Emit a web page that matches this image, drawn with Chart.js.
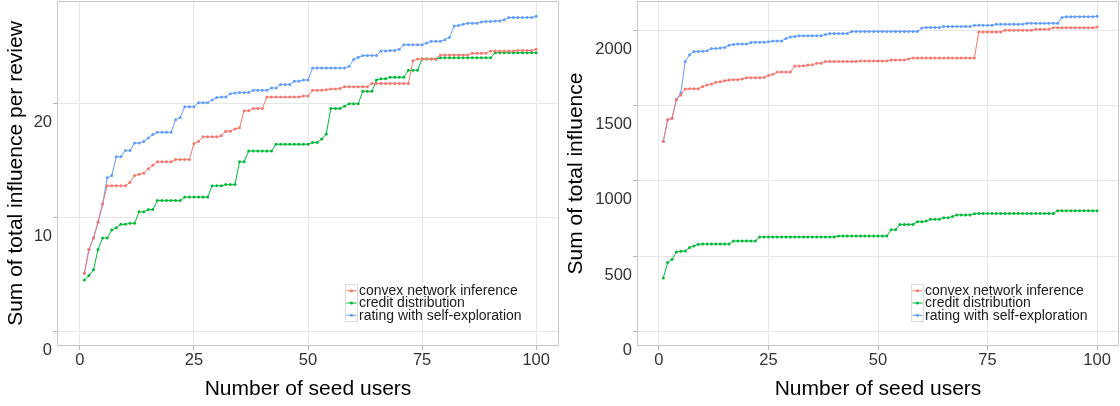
<!DOCTYPE html>
<html>
<head>
<meta charset="utf-8">
<script src="https://cdn.jsdelivr.net/npm/chart.js@4.4.1/dist/chart.umd.min.js"></script>
<style>
  body { margin: 0; background: #fff; }
  .row { display: flex; width: 1120px; height: 406px; }
  canvas { display: block; }
</style>
</head>
<body>
<div class="row">
  <canvas id="perReviewChart" width="560" height="406"></canvas>
  <canvas id="totalChart" width="560" height="406"></canvas>
</div>
<script>
const seedUsers = Array.from({ length: 100 }, (_, i) => i + 1);
const xTicks = [0, 25, 50, 75, 100];
const perReviewTicks = [0, 10, 20];
const totalTicks = [0, 500, 1000, 1500, 2000];
const seriesNames = ['convex network inference', 'credit distribution', 'rating with self-exploration'];
const seriesColors = ['#F8766D', '#00BA38', '#619CFF'];

// left panel: sum of total influence per review
const convexPerReview = [
  5.1, 7.2, 8.2, 9.6, 11.2, 12.8, 12.8, 12.8, 12.8, 12.8,
  13.1, 13.7, 13.8, 13.9, 14.3, 14.6, 14.9, 14.9, 14.9, 14.9,
  15.1, 15.1, 15.1, 15.1, 16.5, 16.7, 17.1, 17.1, 17.1, 17.1,
  17.2, 17.6, 17.6, 17.8, 17.9, 19.4, 19.4, 19.6, 19.6, 19.6,
  20.6, 20.6, 20.6, 20.6, 20.6, 20.6, 20.6, 20.6, 20.7, 20.7,
  21.2, 21.2, 21.2, 21.25, 21.3, 21.3, 21.35, 21.5, 21.5, 21.5,
  21.5, 21.5, 21.5, 21.8, 21.8, 21.8, 21.8, 21.8, 21.8, 21.8,
  21.8, 21.8, 23.8, 23.95, 23.95, 23.95, 23.95, 23.95, 24.3, 24.3,
  24.3, 24.3, 24.3, 24.3, 24.3, 24.45, 24.45, 24.45, 24.45, 24.65,
  24.65, 24.65, 24.65, 24.65, 24.65, 24.7, 24.7, 24.7, 24.7, 24.8
];
const creditPerReview = [
  4.5, 4.9, 5.4, 7.2, 8.2, 8.2, 8.9, 9.1, 9.4, 9.4,
  9.5, 9.5, 10.5, 10.5, 10.7, 10.7, 11.5, 11.5, 11.5, 11.5,
  11.5, 11.5, 11.8, 11.8, 11.8, 11.8, 11.8, 11.8, 12.8, 12.8,
  12.8, 12.9, 12.9, 12.9, 14.9, 14.9, 15.85, 15.85, 15.85, 15.85,
  15.85, 15.85, 16.45, 16.45, 16.45, 16.45, 16.45, 16.45, 16.45, 16.45,
  16.6, 16.6, 16.9, 17.35, 19.6, 19.6, 19.6, 19.8, 20.0, 20.0,
  20.0, 21.1, 21.1, 21.1, 22.1, 22.2, 22.2, 22.35, 22.35, 22.35,
  22.35, 22.95, 22.95, 22.95, 23.95, 23.95, 23.95, 23.95, 24.05, 24.05,
  24.05, 24.05, 24.05, 24.05, 24.05, 24.05, 24.05, 24.05, 24.05, 24.05,
  24.5, 24.5, 24.5, 24.5, 24.5, 24.5, 24.5, 24.5, 24.5, 24.5
];
const ratingPerReview = [
  5.1, 7.2, 8.2, 9.6, 11.2, 13.5, 13.7, 15.35, 15.35, 15.9,
  15.9, 16.55, 16.55, 16.7, 17.0, 17.3, 17.5, 17.5, 17.5, 17.5,
  18.6, 18.8, 19.75, 19.75, 19.75, 20.1, 20.1, 20.1, 20.35, 20.55,
  20.6, 20.6, 20.9, 20.95, 21.0, 21.0, 21.0, 21.2, 21.2, 21.2,
  21.2, 21.4, 21.4, 21.7, 21.7, 21.7, 22.0, 22.0, 22.1, 22.1,
  23.15, 23.15, 23.15, 23.15, 23.15, 23.15, 23.15, 23.15, 23.3, 23.9,
  24.1, 24.25, 24.25, 24.25, 24.25, 24.65, 24.65, 24.7, 24.7, 24.8,
  25.2, 25.2, 25.2, 25.2, 25.2, 25.35, 25.5, 25.5, 25.5, 25.65,
  25.85, 26.85, 26.9, 27.0, 27.1, 27.1, 27.1, 27.2, 27.25, 27.25,
  27.3, 27.3, 27.4, 27.6, 27.6, 27.6, 27.6, 27.6, 27.6, 27.7
];

// right panel: sum of total influence
const convexTotal = [
  1261, 1405, 1416, 1541, 1570, 1610, 1612, 1612, 1612, 1626,
  1637, 1643, 1654, 1658, 1665, 1669, 1672, 1672, 1676, 1685,
  1685, 1685, 1685, 1687, 1700, 1707, 1722, 1722, 1722, 1722,
  1762, 1762, 1764, 1769, 1771, 1780, 1780, 1793, 1793, 1793,
  1793, 1793, 1793, 1793, 1793, 1796, 1796, 1796, 1796, 1796,
  1796, 1796, 1803, 1803, 1803, 1803, 1809, 1816, 1816, 1816,
  1816, 1816, 1816, 1816, 1816, 1816, 1816, 1816, 1816, 1816,
  1816, 1816, 1989, 1989, 1989, 1989, 1989, 1989, 2000, 2000,
  2000, 2000, 2000, 2000, 2000, 2006, 2006, 2006, 2006, 2017,
  2017, 2017, 2017, 2017, 2017, 2017, 2017, 2017, 2017, 2021
];
const creditTotal = [
  356, 458, 480, 528, 533, 535, 557, 568, 579, 581,
  581, 581, 581, 581, 581, 581, 601, 601, 601, 601,
  601, 601, 628, 628, 628, 628, 628, 628, 628, 628,
  628, 628, 628, 628, 628, 628, 628, 628, 628, 628,
  634, 634, 634, 634, 634, 634, 634, 634, 634, 634,
  634, 634, 676, 676, 711, 711, 711, 711, 729, 729,
  733, 745, 745, 745, 756, 756, 763, 774, 774, 774,
  774, 782, 784, 784, 784, 784, 784, 784, 784, 784,
  784, 784, 784, 784, 784, 784, 784, 784, 784, 784,
  802, 802, 802, 802, 802, 802, 802, 802, 802, 802
];
const ratingTotal = [
  1261, 1405, 1416, 1541, 1583, 1793, 1837, 1859, 1859, 1861,
  1863, 1878, 1878, 1882, 1886, 1900, 1906, 1908, 1908, 1908,
  1919, 1921, 1921, 1921, 1923, 1928, 1928, 1928, 1945, 1955,
  1958, 1963, 1963, 1963, 1963, 1963, 1963, 1971, 1978, 1978,
  1978, 1978, 1978, 1992, 1992, 1992, 1992, 1992, 1992, 1992,
  1992, 1992, 1992, 1992, 1992, 1992, 1992, 1992, 1992, 2014,
  2018, 2018, 2018, 2018, 2025, 2025, 2025, 2025, 2025, 2025,
  2025, 2033, 2033, 2033, 2033, 2033, 2040, 2040, 2040, 2040,
  2040, 2040, 2040, 2046, 2046, 2046, 2046, 2046, 2046, 2046,
  2046, 2084, 2090, 2090, 2090, 2090, 2090, 2090, 2090, 2093
];

const fontFamily = "'Liberation Sans', Arial, Helvetica, sans-serif";

// grey box around the plotting panel
const panelFrame = {
  id: 'panelFrame',
  afterDraw(chart) {
    const { ctx, chartArea: a } = chart;
    ctx.save();
    ctx.strokeStyle = '#c8c8c8';
    ctx.lineWidth = 1;
    ctx.strokeRect(a.left + 0.5, a.top + 0.5, a.right - a.left - 1, a.bottom - a.top - 1);
    ctx.restore();
  }
};

// ggplot-like legend inside the panel, bottom right
const insideLegend = {
  id: 'insideLegend',
  afterDraw(chart, args, opts) {
    const { ctx, chartArea: a } = chart;
    const sets = chart.data.datasets;
    const rowH = 12.3, keyW = 12;
    const left = a.right - opts.right;
    const top = a.bottom - opts.bottom - rowH * sets.length;
    ctx.save();
    ctx.fillStyle = '#fff';
    ctx.fillRect(left, top, keyW, rowH * sets.length);
    ctx.strokeStyle = '#dadada';
    ctx.lineWidth = 1;
    ctx.strokeRect(left + 0.5, top + 0.5, keyW, rowH * sets.length);
    ctx.font = '14px ' + fontFamily;
    ctx.textBaseline = 'middle';
    sets.forEach((ds, i) => {
      const cy = top + rowH * i + rowH / 2 + 0.5;
      ctx.strokeStyle = ds.borderColor;
      ctx.beginPath();
      ctx.moveTo(left + 1.5, cy);
      ctx.lineTo(left + keyW - 0.5, cy);
      ctx.stroke();
      ctx.fillStyle = ds.borderColor;
      ctx.beginPath();
      ctx.arc(left + keyW / 2 + 0.5, cy, 1.5, 0, Math.PI * 2);
      ctx.fill();
      ctx.fillStyle = '#1a1a1a';
      ctx.fillText(ds.label, left + keyW + 2, cy + 0.5);
    });
    ctx.restore();
  }
};

function buildChart(id, values, yTicks, yMin, yMax, yTitle, yWidth, legendRight) {
  const ctx = document.getElementById(id).getContext('2d');
  return new Chart(ctx, {
    type: 'line',
    data: {
      labels: seedUsers,
      datasets: values.map((v, i) => ({
        label: seriesNames[i],
        data: v,
        borderColor: seriesColors[i],
        backgroundColor: seriesColors[i],
        borderWidth: 1,
        pointRadius: 1.5,
        pointBorderWidth: 0,
        pointBackgroundColor: seriesColors[i],
        tension: 0,
        order: i
      }))
    },
    options: {
      responsive: false,
      animation: false,
      devicePixelRatio: 1,
      events: [],
      layout: { autoPadding: false, padding: { top: 1, right: 1, left: 0, bottom: 0 } },
      plugins: {
        legend: { display: false },
        tooltip: { enabled: false },
        insideLegend: { right: legendRight, bottom: 25 }
      },
      scales: {
        x: {
          type: 'linear',
          min: -5,
          max: 105,
          afterBuildTicks: s => { s.ticks = xTicks.map(v => ({ value: v })); },
          afterFit: s => { s.height = 60; s.paddingLeft = 0; s.paddingRight = 0; },
          grid: { color: '#e6e6e6', tickColor: '#b3b3b3', tickLength: 4 },
          border: { display: false },
          ticks: {
            padding: 1,
            maxRotation: 0,
            color: '#333',
            font: { family: fontFamily, size: 16.5 },
            callback: v => String(v)
          },
          title: {
            display: true,
            text: 'Number of seed users',
            color: '#000',
            font: { family: fontFamily, size: 21 },
            padding: { top: 0, bottom: 4 }
          }
        },
        y: {
          type: 'linear',
          min: yMin,
          max: yMax,
          afterBuildTicks: s => { s.ticks = yTicks.map(v => ({ value: v })); },
          afterFit: s => { s.width = yWidth; s.paddingTop = 0; s.paddingBottom = 0; },
          grid: { color: '#e6e6e6', tickColor: '#b3b3b3', tickLength: 4 },
          border: { display: false },
          ticks: {
            padding: 1,
            labelOffset: 19,
            color: '#333',
            font: { family: fontFamily, size: 16.5 },
            callback: v => String(v)
          },
          title: {
            display: true,
            text: yTitle,
            color: '#000',
            font: { family: fontFamily, size: 21 },
            padding: { top: 4, bottom: 0 }
          }
        }
      }
    },
    plugins: [panelFrame, insideLegend]
  });
}

buildChart('perReviewChart', [convexPerReview, creditPerReview, ratingPerReview],
  perReviewTicks, -1.3, 29.05, 'Sum of total influence per review', 57, 214);
buildChart('totalChart', [convexTotal, creditTotal, ratingTotal],
  totalTicks, -96, 2194, 'Sum of total influence', 77, 208);
</script>
</body>
</html>
